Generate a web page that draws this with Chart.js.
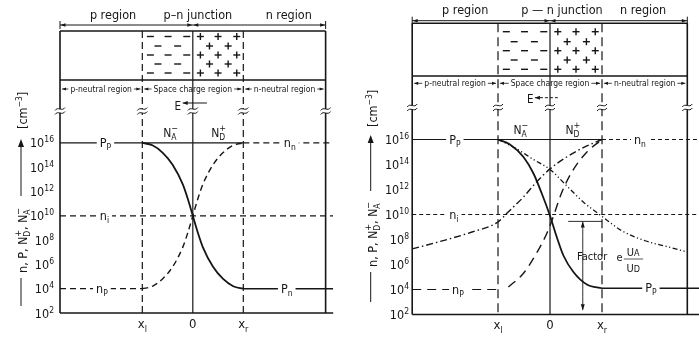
<!DOCTYPE html>
<html lang="en">
<head>
<meta charset="UTF-8">
<title>Carrier concentrations across a p-n junction</title>
<script src="https://cdn.jsdelivr.net/npm/chart.js"></script>
<style>
    body { margin: 0; background: #fff; }
    #wrap { position: relative; width: 699px; height: 340px; }
    canvas { position: absolute; top: 0; }
    #left { left: 0; }
    #right { left: 349px; }
</style>
</head>
<body>
<div id="wrap">
    <canvas id="left" width="349" height="340"></canvas>
    <canvas id="right" width="350" height="340"></canvas>
</div>
<script>
// concentrations are given as exponents of ten (cm^-3)
const decadeTicks = [2, 4, 6, 8, 10, 12, 14, 16];
const boundaryX = [-1, 0, 1];                       // x_l, junction, x_r
const boundaryLabels = [['x', 'l'], ['0', ''], ['x', 'r']];

// thermal equilibrium
const eqX         = [-1, -0.8, -0.6, -0.4, -0.2, -0.1, 0, 0.1, 0.2, 0.4, 0.6, 0.8, 1];
const eqHoles     = [16, 15.8, 15.2, 14.2, 12.6, 11.4, 10, 8.6, 7.4, 5.8, 4.8, 4.2, 4];
const eqElectrons = [4, 4.2, 4.8, 5.8, 7.4, 8.6, 10, 11.4, 12.6, 14.2, 15.2, 15.8, 16];
const eqPp = 16, eqNn = 16, eqNi = 10, eqNp = 4, eqPn = 4;

// with applied voltage
const biasHoleX     = [-1, -0.77, -0.51, -0.32, -0.16, 0, 0.13, 0.26, 0.45, 0.71, 1];
const biasHoles     = [16, 15.6, 14.6, 13.3, 11.7, 9.9, 8.2, 6.7, 5.4, 4.4, 4.1];
const biasElecX     = [-0.8, -0.51, -0.26, -0.06, 0.06, 0.22, 0.42, 0.71, 1];
const biasElectrons = [4.2, 5.3, 6.9, 8.5, 9.8, 11.7, 13.4, 15.0, 16];
const injElecX      = [-2.65, -2.15, -1.5, -1, -0.83, -0.51, -0.26, 0, 0.32, 0.64, 1];
const injElectrons  = [7.25, 7.8, 8.6, 9.4, 10.1, 11.4, 12.6, 13.65, 14.6, 15.35, 16];
const injHoleX      = [-1, -0.64, -0.32, 0, 0.32, 0.64, 1, 1.38, 1.83, 2.28, 2.64];
const injHoles      = [16, 15.25, 14.4, 13.6, 12.3, 11.0, 9.85, 8.7, 7.9, 7.4, 7.0];
const biasPp = 16, biasNn = 16, biasNi = 10, biasNp = 4, biasPn = 4.1;
const factorX = 0.63, factorTop = 9.45, factorBottom = 2.35, factorFrom = 0.35;

// space charge signs in the cross section
const minusWide = [-0.84, -0.49, -0.12], minusNarrow = [-0.69, -0.3];
const plusWide = [0.15, 0.5, 0.87], plusNarrow = [0.33, 0.7];

const INK = '#161616';
const FONT = '"Liberation Sans Narrow", "DejaVu Sans Condensed", "Liberation Sans", sans-serif';
const font = s => s + 'px ' + FONT;
const T = (t, size, dy) => ({ t, size, dy: dy || 0 });

function measureRuns(ctx, runs) {
    return runs.map(r => {
        if (r.sub) {
            ctx.font = font(r.sub.size); const w1 = ctx.measureText(r.sub.t).width;
            ctx.font = font(r.sup.size); const w2 = ctx.measureText(r.sup.t).width;
            return Math.max(w1, w2);
        }
        ctx.font = font(r.size);
        return ctx.measureText(r.t).width;
    });
}

function richText(ctx, runs, x, y, align) {
    const ws = measureRuns(ctx, runs);
    const total = ws.reduce((s, w) => s + w, 0);
    let cx = align === 'center' ? x - total / 2 : align === 'right' ? x - total : x;
    ctx.textAlign = 'left';
    ctx.textBaseline = 'alphabetic';
    runs.forEach((r, i) => {
        (r.sub ? [r.sub, r.sup] : [r]).forEach(it => {
            ctx.font = font(it.size);
            ctx.fillText(it.t, cx, y + it.dy);
        });
        cx += ws[i];
    });
    return total;
}

function rotatedRich(ctx, runs, x, y) {
    ctx.save();
    ctx.translate(x, y);
    ctx.rotate(-Math.PI / 2);
    richText(ctx, runs, 0, 0, 'left');
    ctx.restore();
}

function seg(ctx, x1, y1, x2, y2, w, dash) {
    ctx.beginPath();
    ctx.setLineDash(dash || []);
    ctx.lineWidth = w;
    ctx.moveTo(x1, y1);
    ctx.lineTo(x2, y2);
    ctx.stroke();
    ctx.setLineDash([]);
}

function arrow(ctx, x, y, dx, dy, len, half) {
    len = len || 5; half = half || 2;
    ctx.beginPath();
    ctx.moveTo(x, y);
    ctx.lineTo(x - dx * len - dy * half, y - dy * len + dx * half);
    ctx.lineTo(x - dx * len + dy * half, y - dy * len - dx * half);
    ctx.closePath();
    ctx.fill();
}

function breakMark(ctx, x, y) {
    ctx.fillStyle = '#fff';
    ctx.fillRect(x - 2, y - 2, 4, 4);
    ctx.fillStyle = INK;
    ctx.lineWidth = 1;
    [-2, 2].forEach(o => {
        ctx.beginPath();
        ctx.moveTo(x - 5, y + o + 1.5);
        ctx.bezierCurveTo(x - 2, y + o - 3, x + 2, y + o + 3, x + 5, y + o - 1.5);
        ctx.stroke();
    });
}

function gapLabel(ctx, runs, x, y) {
    const w = measureRuns(ctx, runs).reduce((s, v) => s + v, 0);
    ctx.fillStyle = '#fff';
    ctx.fillRect(x - w / 2 - 3, y - 2, w + 6, 4);
    ctx.fillStyle = INK;
    richText(ctx, runs, x, y + 4, 'center');
}

const sub = (a, b) => [T(a, 12.5), T(b, 8.5, 3)];
const ion = (b, s) => [T('N', 12), { sub: T(b, 8.5, 3), sup: T(s, 9, -6) }];

function diagramPlugin(p) {
    return {
        id: 'diagram',
        beforeDatasetsDraw(chart) {
            const { ctx, chartArea: a } = chart;
            const X = v => chart.scales.x.getPixelForValue(v);
            const xa = X(p.xMin), xb = X(p.xEdge);
            const [xl, x0, xr] = boundaryX.map(X);
            ctx.save();
            ctx.strokeStyle = INK;
            ctx.fillStyle = INK;

            // cross section and the region boundaries running down into the plot
            seg(ctx, xa, p.boxTop, xa, a.bottom, 1.6);
            seg(ctx, xb, p.boxTop, xb, a.bottom, 1.6);
            seg(ctx, x0, p.boxTop, x0, a.bottom, 1.2);
            seg(ctx, xl, p.boxTop, xl, a.bottom, 1.2, p.edgeDash);
            seg(ctx, xr, p.boxTop, xr, a.bottom, 1.2, p.edgeDash);
            seg(ctx, xa, p.boxTop, xb, p.boxTop, 1.4);
            seg(ctx, xa, p.boxBottom, xb, p.boxBottom, 1.4);
            seg(ctx, xa, a.bottom, a.right, a.bottom, 1.5);

            p.signRows.forEach((ry, i) => {
                const wide = i % 2 === 0;
                (wide ? minusWide : minusNarrow).forEach(c => seg(ctx, X(c) - 3.5, ry, X(c) + 3.5, ry, 1.4));
                (wide ? plusWide : plusNarrow).forEach(c => {
                    seg(ctx, X(c) - 3.5, ry, X(c) + 3.5, ry, 1.4);
                    seg(ctx, X(c), ry - 3.5, X(c), ry + 3.5, 1.4);
                });
            });

            // region names and dimension line
            ctx.font = font(12.5);
            ctx.textAlign = 'center';
            p.titles.forEach(([v, t]) => ctx.fillText(t, X(v), p.titleY));
            seg(ctx, xa, p.dimY, xb, p.dimY, 1);
            seg(ctx, xa, p.dimY - 4, xa, p.dimY + 4, 1);
            seg(ctx, xb, p.dimY - 4, xb, p.dimY + 4, 1);
            arrow(ctx, xa + 0.5, p.dimY, -1, 0, 5, 1.8);
            arrow(ctx, xb - 0.5, p.dimY, 1, 0, 5, 1.8);
            arrow(ctx, x0 - 0.5, p.dimY, 1, 0, 5, 1.8);
            arrow(ctx, x0 + 0.5, p.dimY, -1, 0, 5, 1.8);

            // neutral / space charge row
            ctx.font = font(8.5);
            [[xa, xl, 'p-neutral region'], [xl, xr, 'Space charge region'], [xr, xb, 'n-neutral region']].forEach(([s, e, t]) => {
                const m = (s + e) / 2, w = ctx.measureText(t).width;
                ctx.textAlign = 'center';
                ctx.fillText(t, m, p.neutralY + 3);
                seg(ctx, s + 2, p.neutralY, m - w / 2 - 2, p.neutralY, 0.8);
                seg(ctx, m + w / 2 + 2, p.neutralY, e - 2, p.neutralY, 0.8);
                arrow(ctx, s + 2, p.neutralY, -1, 0, 4, 1.6);
                arrow(ctx, e - 2, p.neutralY, 1, 0, 4, 1.6);
            });

            // field direction
            ctx.font = font(11.5);
            ctx.textAlign = 'center';
            ctx.fillText('E', X(p.eText), p.eBase);
            seg(ctx, X(p.eArrow[0]), p.eArrowY, X(p.eArrow[1]), p.eArrowY, 1, p.eDash);
            arrow(ctx, X(p.eArrow[0]), p.eArrowY, -1, 0, 5, 2);

            [xa, xl, x0, xr, xb].forEach(bx => breakMark(ctx, bx, p.breakY));
            ctx.restore();
        },
        afterDatasetsDraw(chart) {
            const { ctx } = chart;
            const X = v => chart.scales.x.getPixelForValue(v);
            const Y = e => chart.scales.y.getPixelForValue(10 ** e);
            ctx.save();
            ctx.strokeStyle = INK;
            ctx.fillStyle = INK;

            p.lineLabels.forEach(l => gapLabel(ctx, l.runs, X(l.x), Y(l.e)));
            p.ionLabels.forEach(l => richText(ctx, l.runs, X(l.x), l.y, 'center'));

            decadeTicks.forEach(e => {
                richText(ctx, [T('10', 12.5), T(String(e), 8.5, -5)], p.tickRight, Y(e) + 4.5, 'right');
            });
            boundaryX.forEach((v, i) => {
                const [a, b] = boundaryLabels[i];
                richText(ctx, [T(a, 13), T(b, 9, 4)], X(v), p.xLabelBase, 'center');
            });

            // rotated axis title with its arrow
            const t = p.axisTitle;
            seg(ctx, t.cx, t.line1[0], t.cx, t.line1[1], 1);
            seg(ctx, t.cx, t.line2[0], t.cx, t.line2[1], 1);
            arrow(ctx, t.cx, t.tip, 0, -1, 8, 3);
            rotatedRich(ctx, [T('n, P, ', 12.5)].concat(ion('D', '+'), [T(', ', 12.5)], ion('A', '−')), t.base, t.text);
            rotatedRich(ctx, [T('[cm', 12.5), T('−3', 8.5, -5), T(']', 12.5)], t.base, t.unit);

            if (p.factor) {
                const fx = X(factorX);
                arrow(ctx, fx, Y(factorTop), 0, -1, 6, 2);
                arrow(ctx, fx, Y(factorBottom), 0, 1, 6, 2);
                ctx.font = font(11);
                ctx.textAlign = 'left';
                ctx.fillText('Factor', X(0.52), 260);
                ctx.fillText('e', X(1.28), 261);
                richText(ctx, [T('U', 11), T('A', 9, 0)], X(1.6), 256, 'center');
                richText(ctx, [T('U', 11), T('D', 9, 0)], X(1.6), 272, 'center');
                seg(ctx, X(1.42), 259, X(1.79), 259, 0.7);
            }
            ctx.restore();
        }
    };
}

function curve(xs, es, style) {
    return Object.assign({
        data: xs.map((x, i) => ({ x, y: 10 ** es[i] })),
        showLine: true,
        borderColor: INK,
        borderWidth: 1.3,
        pointRadius: 0,
        fill: false,
        cubicInterpolationMode: 'monotone'
    }, style);
}
const level = (x1, x2, e, style) => curve([x1, x2], [e, e], style);

const leftPanel = {
    id: 'left', xMin: -2.63, xMax: 2.78, xEdge: 2.63, yMaxExp: 18.5,
    padding: { left: 60, right: 15.8, top: 112.5, bottom: 27 },
    titleY: 19, dimY: 25, boxTop: 31, boxBottom: 80,
    signRows: [36.5, 46, 55, 64, 73],
    neutralY: 89, breakY: 111,
    eText: -0.3, eBase: 110, eArrowY: 103, eArrow: [-0.2, 0.28], eDash: [],
    edgeDash: [7, 4],
    titles: [[-1.58, 'p region'], [0.1, 'p–n junction'], [1.9, 'n region']],
    tickRight: 54, xLabelBase: 328,
    axisTitle: { cx: 21, base: 27, line1: [306, 278], text: 273, line2: [196, 147], tip: 139, unit: 129 },
    lineLabels: [
        { runs: sub('P', 'P'), x: -1.73, e: eqPp },
        { runs: sub('n', 'n'), x: 1.92, e: eqNn },
        { runs: sub('n', 'i'), x: -1.75, e: eqNi },
        { runs: sub('n', 'P'), x: -1.8, e: eqNp },
        { runs: sub('P', 'n'), x: 1.86, e: eqPn }
    ],
    ionLabels: [
        { runs: ion('A', '−'), x: -0.44, y: 137 },
        { runs: ion('D', '+'), x: 0.51, y: 137 }
    ],
    datasets: []
};
leftPanel.datasets = [
    curve(eqX, eqHoles, { borderWidth: 1.8 }),
    curve(eqX, eqElectrons, { borderWidth: 1.4, borderDash: [6, 4] }),
    level(leftPanel.xMin, 1, eqPp, { borderWidth: 1.3 }),
    level(1, leftPanel.xMax, eqNn, { borderDash: [6, 4] }),
    level(leftPanel.xMin, leftPanel.xMax, eqNi, { borderDash: [6, 4] }),
    level(leftPanel.xMin, -1, eqNp, { borderDash: [6, 4] }),
    level(1, leftPanel.xMax, eqPn, { borderWidth: 1.5 })
];

const rightPanel = {
    id: 'right', xMin: -2.65, xMax: 2.865, xEdge: 2.64, yMaxExp: 18.4,
    padding: { left: 63.2, right: 0, top: 109.5, bottom: 25.5 },
    titleY: 14, dimY: 20.7, boxTop: 23.3, boxBottom: 76,
    signRows: [31.7, 41.7, 50.7, 60, 69.3],
    neutralY: 83.3, breakY: 107.5,
    eText: -0.38, eBase: 103, eArrowY: 97.7, eArrow: [-0.29, 0.15], eDash: [3, 2],
    edgeDash: [9, 5],
    titles: [[-1.63, 'p region'], [0.23, 'p — n junction'], [1.79, 'n region']],
    tickRight: 60, xLabelBase: 329,
    axisTitle: { cx: 21.7, base: 27.5, line1: [302, 272], text: 267, line2: [191, 143], tip: 135, unit: 127 },
    lineLabels: [
        { runs: sub('P', 'P'), x: -1.83, e: biasPp },
        { runs: sub('n', 'n'), x: 1.73, e: biasNn },
        { runs: sub('n', 'i'), x: -1.85, e: biasNi },
        { runs: sub('n', 'P'), x: -1.77, e: biasNp },
        { runs: sub('P', 'P'), x: 1.94, e: biasPn }
    ],
    ionLabels: [
        { runs: ion('A', '−'), x: -0.56, y: 134 },
        { runs: ion('D', '+'), x: 0.44, y: 134 }
    ],
    factor: true,
    datasets: []
};
rightPanel.datasets = [
    curve(biasHoleX, biasHoles, { borderWidth: 1.8 }),
    curve(biasElecX, biasElectrons, { borderWidth: 1.4, borderDash: [9, 6] }),
    curve(injElecX, injElectrons, { borderWidth: 1.4, borderDash: [7, 3, 1.5, 3] }),
    curve(injHoleX, injHoles, { borderWidth: 1.3, borderDash: [5, 2.5, 1.2, 2.5, 1.2, 2.5] }),
    level(rightPanel.xMin, 1, biasPp, { borderWidth: 1.2 }),
    level(1, rightPanel.xMax, biasNn, { borderWidth: 1, borderDash: [4, 3] }),
    level(rightPanel.xMin, rightPanel.xMax, biasNi, { borderWidth: 1, borderDash: [4, 3] }),
    level(rightPanel.xMin, -1, biasNp, { borderWidth: 1.2, borderDash: [9, 6] }),
    level(1, rightPanel.xMax, biasPn, { borderWidth: 1.4 }),
    level(factorFrom, 1, factorTop, { borderWidth: 0.9 }),
    curve([factorX, factorX], [factorTop, factorBottom], { borderWidth: 0.9 })
];

function buildChart(p) {
    const ctx = document.getElementById(p.id).getContext('2d');
    return new Chart(ctx, {
        type: 'scatter',
        data: { datasets: p.datasets },
        options: {
            responsive: false,
            animation: false,
            events: [],
            layout: { padding: p.padding },
            plugins: { legend: { display: false }, tooltip: { enabled: false } },
            scales: {
                x: { type: 'linear', min: p.xMin, max: p.xMax, display: false },
                y: { type: 'logarithmic', min: 1e2, max: 10 ** p.yMaxExp, display: false }
            },
            elements: { point: { radius: 0 } }
        },
        plugins: [diagramPlugin(p)]
    });
}

buildChart(leftPanel);
buildChart(rightPanel);
</script>
</body>
</html>
